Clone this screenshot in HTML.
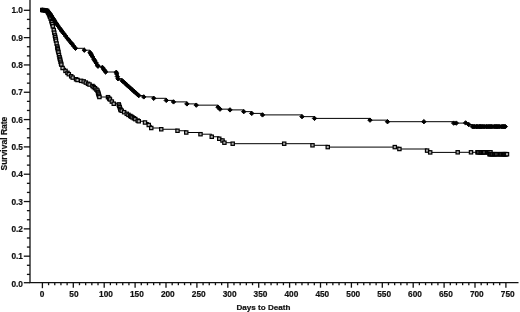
<!DOCTYPE html>
<html><head><meta charset="utf-8"><title>Survival Rate vs Days to Death</title>
<style>html,body{margin:0;padding:0;background:#fff}body{width:520px;height:312px;overflow:hidden}svg{display:block}</style>
</head><body>
<svg width="520" height="312" viewBox="0 0 520 312">
<rect width="520" height="312" fill="#fff"/>
<g stroke="#111" stroke-width="1.3" fill="none" stroke-linecap="butt">
<path d="M30.00 0.00 V282.70 H518.50"/>
<path d="M30.00 282.70 H23.80"/>
<path d="M30.00 274.39 H26.90"/>
<path d="M30.00 265.29 H26.90"/>
<path d="M30.00 256.18 H23.80"/>
<path d="M30.00 247.07 H26.90"/>
<path d="M30.00 237.97 H26.90"/>
<path d="M30.00 228.86 H23.80"/>
<path d="M30.00 219.75 H26.90"/>
<path d="M30.00 210.65 H26.90"/>
<path d="M30.00 201.54 H23.80"/>
<path d="M30.00 192.43 H26.90"/>
<path d="M30.00 183.33 H26.90"/>
<path d="M30.00 174.22 H23.80"/>
<path d="M30.00 165.11 H26.90"/>
<path d="M30.00 156.01 H26.90"/>
<path d="M30.00 146.90 H23.80"/>
<path d="M30.00 137.79 H26.90"/>
<path d="M30.00 128.69 H26.90"/>
<path d="M30.00 119.58 H23.80"/>
<path d="M30.00 110.47 H26.90"/>
<path d="M30.00 101.37 H26.90"/>
<path d="M30.00 92.26 H23.80"/>
<path d="M30.00 83.15 H26.90"/>
<path d="M30.00 74.05 H26.90"/>
<path d="M30.00 64.94 H23.80"/>
<path d="M30.00 55.83 H26.90"/>
<path d="M30.00 46.73 H26.90"/>
<path d="M30.00 37.62 H23.80"/>
<path d="M30.00 28.51 H26.90"/>
<path d="M30.00 19.41 H26.90"/>
<path d="M30.00 10.30 H23.80"/>
<path d="M42.40 282.70 V288.20"/>
<path d="M48.58 282.70 V285.20"/>
<path d="M54.76 282.70 V285.20"/>
<path d="M60.94 282.70 V285.20"/>
<path d="M67.12 282.70 V285.20"/>
<path d="M73.30 282.70 V287.70"/>
<path d="M79.48 282.70 V285.20"/>
<path d="M85.66 282.70 V285.20"/>
<path d="M91.84 282.70 V285.20"/>
<path d="M98.02 282.70 V285.20"/>
<path d="M104.20 282.70 V287.70"/>
<path d="M110.38 282.70 V285.20"/>
<path d="M116.56 282.70 V285.20"/>
<path d="M122.74 282.70 V285.20"/>
<path d="M128.92 282.70 V285.20"/>
<path d="M135.10 282.70 V287.70"/>
<path d="M141.28 282.70 V285.20"/>
<path d="M147.46 282.70 V285.20"/>
<path d="M153.64 282.70 V285.20"/>
<path d="M159.82 282.70 V285.20"/>
<path d="M166.00 282.70 V287.70"/>
<path d="M172.18 282.70 V285.20"/>
<path d="M178.36 282.70 V285.20"/>
<path d="M184.54 282.70 V285.20"/>
<path d="M190.72 282.70 V285.20"/>
<path d="M196.90 282.70 V287.70"/>
<path d="M203.08 282.70 V285.20"/>
<path d="M209.26 282.70 V285.20"/>
<path d="M215.44 282.70 V285.20"/>
<path d="M221.62 282.70 V285.20"/>
<path d="M227.80 282.70 V287.70"/>
<path d="M233.98 282.70 V285.20"/>
<path d="M240.16 282.70 V285.20"/>
<path d="M246.34 282.70 V285.20"/>
<path d="M252.52 282.70 V285.20"/>
<path d="M258.70 282.70 V287.70"/>
<path d="M264.88 282.70 V285.20"/>
<path d="M271.06 282.70 V285.20"/>
<path d="M277.24 282.70 V285.20"/>
<path d="M283.42 282.70 V285.20"/>
<path d="M289.60 282.70 V287.70"/>
<path d="M295.78 282.70 V285.20"/>
<path d="M301.96 282.70 V285.20"/>
<path d="M308.14 282.70 V285.20"/>
<path d="M314.32 282.70 V285.20"/>
<path d="M320.50 282.70 V287.70"/>
<path d="M326.68 282.70 V285.20"/>
<path d="M332.86 282.70 V285.20"/>
<path d="M339.04 282.70 V285.20"/>
<path d="M345.22 282.70 V285.20"/>
<path d="M351.40 282.70 V287.70"/>
<path d="M357.58 282.70 V285.20"/>
<path d="M363.76 282.70 V285.20"/>
<path d="M369.94 282.70 V285.20"/>
<path d="M376.12 282.70 V285.20"/>
<path d="M382.30 282.70 V287.70"/>
<path d="M388.48 282.70 V285.20"/>
<path d="M394.66 282.70 V285.20"/>
<path d="M400.84 282.70 V285.20"/>
<path d="M407.02 282.70 V285.20"/>
<path d="M413.20 282.70 V287.70"/>
<path d="M419.38 282.70 V285.20"/>
<path d="M425.56 282.70 V285.20"/>
<path d="M431.74 282.70 V285.20"/>
<path d="M437.92 282.70 V285.20"/>
<path d="M444.10 282.70 V287.70"/>
<path d="M450.28 282.70 V285.20"/>
<path d="M456.46 282.70 V285.20"/>
<path d="M462.64 282.70 V285.20"/>
<path d="M468.82 282.70 V285.20"/>
<path d="M475.00 282.70 V287.70"/>
<path d="M481.18 282.70 V285.20"/>
<path d="M487.36 282.70 V285.20"/>
<path d="M493.54 282.70 V285.20"/>
<path d="M499.72 282.70 V285.20"/>
<path d="M505.90 282.70 V287.70"/>
</g>
<g font-family="'Liberation Sans', Arial, Helvetica, sans-serif" font-weight="bold" font-size="8.3" fill="#111" stroke="#111" stroke-width="0.2">
<text x="23.0" y="286.50" text-anchor="end">0.0</text>
<text x="23.0" y="259.18" text-anchor="end">0.1</text>
<text x="23.0" y="231.86" text-anchor="end">0.2</text>
<text x="23.0" y="204.54" text-anchor="end">0.3</text>
<text x="23.0" y="177.22" text-anchor="end">0.4</text>
<text x="23.0" y="149.90" text-anchor="end">0.5</text>
<text x="23.0" y="122.58" text-anchor="end">0.6</text>
<text x="23.0" y="95.26" text-anchor="end">0.7</text>
<text x="23.0" y="67.94" text-anchor="end">0.8</text>
<text x="23.0" y="40.62" text-anchor="end">0.9</text>
<text x="23.0" y="13.30" text-anchor="end">1.0</text>
<text x="42.00" y="297.1" text-anchor="middle">0</text>
<text x="73.90" y="297.1" text-anchor="middle">50</text>
<text x="106.00" y="297.1" text-anchor="middle">100</text>
<text x="136.90" y="297.1" text-anchor="middle">150</text>
<text x="167.80" y="297.1" text-anchor="middle">200</text>
<text x="198.70" y="297.1" text-anchor="middle">250</text>
<text x="229.60" y="297.1" text-anchor="middle">300</text>
<text x="260.50" y="297.1" text-anchor="middle">350</text>
<text x="291.40" y="297.1" text-anchor="middle">400</text>
<text x="322.30" y="297.1" text-anchor="middle">450</text>
<text x="353.20" y="297.1" text-anchor="middle">500</text>
<text x="384.10" y="297.1" text-anchor="middle">550</text>
<text x="415.00" y="297.1" text-anchor="middle">600</text>
<text x="445.90" y="297.1" text-anchor="middle">650</text>
<text x="476.80" y="297.1" text-anchor="middle">700</text>
<text x="507.70" y="297.1" text-anchor="middle">750</text>
<text x="263.5" y="309.7" font-size="8.1" text-anchor="middle">Days to Death</text>
<text transform="translate(7.25 143.6) rotate(-90)" font-size="8.5" text-anchor="middle">Survival Rate</text>
</g>
<g stroke="#000" stroke-width="1" fill="none">
<path d="M42.25 10.00 H43.38 V10.19 H45.37 V10.53 H47.00 V10.80 H47.71 V11.93 H48.35 V12.96 H49.00 V14.00 H49.46 V15.28 H49.99 V16.78 H50.63 V18.55 H51.50 V21.00 H51.81 V22.22 H52.29 V24.16 H52.82 V26.30 H53.75 V30.00 H54.31 V32.68 H54.89 V35.45 H55.23 V37.07 H55.63 V38.96 H56.00 V40.74 H56.59 V43.54 H57.21 V46.50 H57.50 V47.87 H57.80 V49.29 H58.12 V50.82 H58.44 V52.35 H59.00 V55.00 H59.53 V57.22 H59.91 V58.80 H60.17 V59.87 H60.62 V61.76 H61.05 V63.55 H61.30 V64.60 H62.60 V68.00 H65.50 V70.90 H67.46 V72.86 H68.80 V74.20 H71.20 V76.30 H72.70 V77.60 H76.07 V79.29 H77.50 V80.00 H81.11 V80.82 H83.70 V81.40 H85.84 V82.59 H88.00 V83.80 H89.53 V84.55 H92.50 V86.00 H93.70 V87.05 H95.00 V88.20 H96.42 V89.57 H97.50 V90.60 H98.01 V92.31 H98.35 V93.46 H98.66 V94.52 H99.06 V95.86 H99.40 V97.00 H108.00 V97.20 H109.21 V98.57 H109.96 V99.44 H111.84 V101.58 H113.75 V103.75 H118.75 V104.40 H119.19 V105.73 H119.69 V107.25 H120.25 V108.95 H120.60 V110.00 H121.74 V110.71 H124.12 V112.18 H126.75 V113.81 H128.47 V114.88 H130.23 V115.97 H131.31 V116.64 H132.42 V117.33 H133.94 V118.27 H135.32 V119.13 H137.67 V120.58 H138.75 V121.25 H145.00 V122.50 H148.75 V125.00 H151.25 V128.00 H161.25 V129.25 H177.50 V130.75 H186.25 V132.50 H200.50 V134.20 H211.75 V136.75 H219.25 V138.75 H222.50 V140.50 H224.40 V142.70 H232.70 V143.70 H284.20 H312.50 V145.30 H327.75 V147.10 H394.80 H399.40 V149.00 H427.10 V150.60 H430.20 V152.40 H457.70 V152.30 H471.00 H477.50 H478.07 H479.57 H480.65 H481.35 H482.44 H483.02 H484.10 H485.63 H487.04 H488.29 H489.10 H490.50 H489.50 V154.20 H490.15 H491.34 H492.31 H493.51 H494.30 H494.99 H496.22 H497.60 H498.86 H500.08 H501.31 H502.48 H503.17 H504.13 H504.95 H505.47 H505.99 H507.00"/>
<path d="M42.25 10.00 H44.16 V10.24 H45.69 V10.43 H47.00 V10.60 H47.98 V11.55 H50.00 V13.50 H51.08 V15.20 H51.79 V16.33 H53.03 V18.30 H53.72 V19.39 H54.88 V21.22 H56.00 V23.00 H56.82 V24.15 H58.07 V25.89 H59.83 V28.36 H61.00 V30.00 H62.03 V31.35 H63.61 V33.41 H65.61 V36.03 H67.50 V38.50 H68.82 V40.11 H70.94 V42.71 H71.77 V43.73 H73.73 V46.13 H75.50 V48.30 H84.30 V50.20 H90.00 V52.50 H90.77 V53.82 H91.51 V55.09 H92.46 V56.72 H93.98 V59.31 H94.79 V60.70 H96.04 V62.85 H97.36 V65.11 H98.00 V66.20 H102.50 V67.50 H103.87 V69.49 H104.63 V70.60 H105.60 V72.00 H116.25 V72.30 H116.69 V73.91 H117.39 V76.52 H118.00 V78.75 H122.00 V80.60 H123.42 V81.87 H125.28 V83.53 H126.92 V85.01 H128.31 V86.25 H130.52 V88.23 H132.56 V90.06 H133.87 V91.23 H135.71 V92.88 H137.47 V94.45 H138.75 V95.60 H143.75 V96.90 H153.75 V98.30 H166.25 V100.40 H173.50 V101.90 H186.90 V103.90 H196.25 V105.15 H218.00 V107.15 H220.00 V109.15 H230.00 V109.90 H243.75 V111.65 H251.75 V113.40 H262.50 V114.90 H302.00 V116.65 H314.50 V118.40 H370.00 V120.15 H387.50 V121.70 H423.90 H453.70 V123.10 H456.30 H465.60 V122.90 H468.80 V124.60 H472.40 V126.60 H473.67 H474.50 H476.01 H476.67 H477.63 H478.92 H479.62 H480.65 H481.23 H482.44 H483.74 H484.85 H486.26 H487.12 H488.35 H489.48 H490.60 H491.60 H492.97 H494.45 H495.47 H496.67 H497.27 H498.51 H499.70 H501.23 H502.58 H503.41 H504.34 H505.30"/>
</g>
<g fill="#b4b4b4" stroke="#000" stroke-width="1.2">
<rect x="40.60" y="8.35" width="3.30" height="3.30" fill="#b0b0b0" stroke-width="1.2"/>
<rect x="41.73" y="8.54" width="3.30" height="3.30" fill="#b0b0b0" stroke-width="1.2"/>
<rect x="43.72" y="8.88" width="3.30" height="3.30" fill="#b0b0b0" stroke-width="1.2"/>
<rect x="45.35" y="9.15" width="3.30" height="3.30" fill="#b0b0b0" stroke-width="1.2"/>
<rect x="46.06" y="10.28" width="3.30" height="3.30" fill="#b0b0b0" stroke-width="1.2"/>
<rect x="46.70" y="11.31" width="3.30" height="3.30" fill="#b0b0b0" stroke-width="1.2"/>
<rect x="47.35" y="12.35" width="3.30" height="3.30" fill="#b0b0b0" stroke-width="1.2"/>
<rect x="47.81" y="13.63" width="3.30" height="3.30" fill="#b0b0b0" stroke-width="1.2"/>
<rect x="48.34" y="15.13" width="3.30" height="3.30" fill="#b0b0b0" stroke-width="1.2"/>
<rect x="48.98" y="16.90" width="3.30" height="3.30" fill="#b0b0b0" stroke-width="1.2"/>
<rect x="49.85" y="19.35" width="3.30" height="3.30" fill="#b0b0b0" stroke-width="1.2"/>
<rect x="50.16" y="20.57" width="3.30" height="3.30" fill="#b0b0b0" stroke-width="1.2"/>
<rect x="50.64" y="22.51" width="3.30" height="3.30" fill="#b0b0b0" stroke-width="1.2"/>
<rect x="51.17" y="24.65" width="3.30" height="3.30" fill="#b0b0b0" stroke-width="1.2"/>
<rect x="52.10" y="28.35" width="3.30" height="3.30" fill="#b0b0b0" stroke-width="1.2"/>
<rect x="52.66" y="31.03" width="3.30" height="3.30" fill="#b0b0b0" stroke-width="1.2"/>
<rect x="53.24" y="33.80" width="3.30" height="3.30" fill="#b0b0b0" stroke-width="1.2"/>
<rect x="53.58" y="35.42" width="3.30" height="3.30" fill="#b0b0b0" stroke-width="1.2"/>
<rect x="53.98" y="37.31" width="3.30" height="3.30" fill="#b0b0b0" stroke-width="1.2"/>
<rect x="54.35" y="39.09" width="3.30" height="3.30" fill="#b0b0b0" stroke-width="1.2"/>
<rect x="54.94" y="41.89" width="3.30" height="3.30" fill="#b0b0b0" stroke-width="1.2"/>
<rect x="55.56" y="44.85" width="3.30" height="3.30" fill="#b0b0b0" stroke-width="1.2"/>
<rect x="55.85" y="46.22" width="3.30" height="3.30" fill="#b0b0b0" stroke-width="1.2"/>
<rect x="56.15" y="47.64" width="3.30" height="3.30" fill="#b0b0b0" stroke-width="1.2"/>
<rect x="56.47" y="49.17" width="3.30" height="3.30" fill="#b0b0b0" stroke-width="1.2"/>
<rect x="56.79" y="50.70" width="3.30" height="3.30" fill="#b0b0b0" stroke-width="1.2"/>
<rect x="57.35" y="53.35" width="3.30" height="3.30" fill="#b0b0b0" stroke-width="1.2"/>
<rect x="57.88" y="55.57" width="3.30" height="3.30" fill="#b0b0b0" stroke-width="1.2"/>
<rect x="58.26" y="57.15" width="3.30" height="3.30" fill="#b0b0b0" stroke-width="1.2"/>
<rect x="58.52" y="58.22" width="3.30" height="3.30" fill="#b0b0b0" stroke-width="1.2"/>
<rect x="58.97" y="60.11" width="3.30" height="3.30" fill="#b0b0b0" stroke-width="1.2"/>
<rect x="59.40" y="61.90" width="3.30" height="3.30" fill="#b0b0b0" stroke-width="1.2"/>
<rect x="59.65" y="62.95" width="3.30" height="3.30" fill="#b0b0b0" stroke-width="1.2"/>
<rect x="60.95" y="66.35" width="3.30" height="3.30" fill="#b0b0b0" stroke-width="1.2"/>
<rect x="63.85" y="69.25" width="3.30" height="3.30" fill="#b0b0b0" stroke-width="1.2"/>
<rect x="65.81" y="71.21" width="3.30" height="3.30" fill="#b0b0b0" stroke-width="1.2"/>
<rect x="67.15" y="72.55" width="3.30" height="3.30" fill="#b0b0b0" stroke-width="1.2"/>
<rect x="69.55" y="74.65" width="3.30" height="3.30" fill="#b0b0b0" stroke-width="1.2"/>
<rect x="71.05" y="75.95" width="3.30" height="3.30" fill="#b0b0b0" stroke-width="1.2"/>
<rect x="74.42" y="77.64" width="3.30" height="3.30" fill="#b0b0b0" stroke-width="1.2"/>
<rect x="75.85" y="78.35" width="3.30" height="3.30" fill="#b0b0b0" stroke-width="1.2"/>
<rect x="79.46" y="79.17" width="3.30" height="3.30" fill="#b0b0b0" stroke-width="1.2"/>
<rect x="82.05" y="79.75" width="3.30" height="3.30" fill="#b0b0b0" stroke-width="1.2"/>
<rect x="84.19" y="80.94" width="3.30" height="3.30" fill="#b0b0b0" stroke-width="1.2"/>
<rect x="86.35" y="82.15" width="3.30" height="3.30" fill="#b0b0b0" stroke-width="1.2"/>
<rect x="87.88" y="82.90" width="3.30" height="3.30" fill="#b0b0b0" stroke-width="1.2"/>
<rect x="90.85" y="84.35" width="3.30" height="3.30" fill="#b0b0b0" stroke-width="1.2"/>
<rect x="92.05" y="85.40" width="3.30" height="3.30" fill="#b0b0b0" stroke-width="1.2"/>
<rect x="93.35" y="86.55" width="3.30" height="3.30" fill="#b0b0b0" stroke-width="1.2"/>
<rect x="94.77" y="87.92" width="3.30" height="3.30" fill="#b0b0b0" stroke-width="1.2"/>
<rect x="95.85" y="88.95" width="3.30" height="3.30" fill="#b0b0b0" stroke-width="1.2"/>
<rect x="96.36" y="90.66" width="3.30" height="3.30" fill="#b0b0b0" stroke-width="1.2"/>
<rect x="96.70" y="91.81" width="3.30" height="3.30" fill="#b0b0b0" stroke-width="1.2"/>
<rect x="97.01" y="92.87" width="3.30" height="3.30" fill="#b0b0b0" stroke-width="1.2"/>
<rect x="97.41" y="94.21" width="3.30" height="3.30" fill="#b0b0b0" stroke-width="1.2"/>
<rect x="97.75" y="95.35" width="3.30" height="3.30" fill="#b0b0b0" stroke-width="1.2"/>
<rect x="106.35" y="95.55" width="3.30" height="3.30" fill="#b0b0b0" stroke-width="1.2"/>
<rect x="107.56" y="96.92" width="3.30" height="3.30" fill="#b0b0b0" stroke-width="1.2"/>
<rect x="108.31" y="97.79" width="3.30" height="3.30" fill="#b0b0b0" stroke-width="1.2"/>
<rect x="110.19" y="99.93" width="3.30" height="3.30" fill="#b0b0b0" stroke-width="1.2"/>
<rect x="112.10" y="102.10" width="3.30" height="3.30" fill="#b0b0b0" stroke-width="1.2"/>
<rect x="117.10" y="102.75" width="3.30" height="3.30" fill="#b0b0b0" stroke-width="1.2"/>
<rect x="117.54" y="104.08" width="3.30" height="3.30" fill="#b0b0b0" stroke-width="1.2"/>
<rect x="118.04" y="105.60" width="3.30" height="3.30" fill="#b0b0b0" stroke-width="1.2"/>
<rect x="118.60" y="107.30" width="3.30" height="3.30" fill="#b0b0b0" stroke-width="1.2"/>
<rect x="118.95" y="108.35" width="3.30" height="3.30" fill="#b0b0b0" stroke-width="1.2"/>
<rect x="120.09" y="109.06" width="3.30" height="3.30" fill="#b0b0b0" stroke-width="1.2"/>
<rect x="122.47" y="110.53" width="3.30" height="3.30" fill="#b0b0b0" stroke-width="1.2"/>
<rect x="125.10" y="112.16" width="3.30" height="3.30" fill="#b0b0b0" stroke-width="1.2"/>
<rect x="126.82" y="113.23" width="3.30" height="3.30" fill="#b0b0b0" stroke-width="1.2"/>
<rect x="128.58" y="114.32" width="3.30" height="3.30" fill="#b0b0b0" stroke-width="1.2"/>
<rect x="129.66" y="114.99" width="3.30" height="3.30" fill="#b0b0b0" stroke-width="1.2"/>
<rect x="130.77" y="115.68" width="3.30" height="3.30" fill="#b0b0b0" stroke-width="1.2"/>
<rect x="132.29" y="116.62" width="3.30" height="3.30" fill="#b0b0b0" stroke-width="1.2"/>
<rect x="133.67" y="117.48" width="3.30" height="3.30" fill="#b0b0b0" stroke-width="1.2"/>
<rect x="136.02" y="118.93" width="3.30" height="3.30" fill="#b0b0b0" stroke-width="1.2"/>
<rect x="137.10" y="119.60" width="3.30" height="3.30" fill="#b0b0b0" stroke-width="1.2"/>
<rect x="143.35" y="120.85" width="3.30" height="3.30" fill="#b0b0b0" stroke-width="1.2"/>
<rect x="147.10" y="123.35" width="3.30" height="3.30" fill="#b0b0b0" stroke-width="1.2"/>
<rect x="149.60" y="126.35" width="3.30" height="3.30" fill="#b0b0b0" stroke-width="1.2"/>
<rect x="159.60" y="127.60" width="3.30" height="3.30" fill="#b0b0b0" stroke-width="1.2"/>
<rect x="175.85" y="129.10" width="3.30" height="3.30" fill="#b0b0b0" stroke-width="1.2"/>
<rect x="184.60" y="130.85" width="3.30" height="3.30" fill="#b0b0b0" stroke-width="1.2"/>
<rect x="198.85" y="132.55" width="3.30" height="3.30" fill="#b0b0b0" stroke-width="1.2"/>
<rect x="210.10" y="135.10" width="3.30" height="3.30" fill="#b0b0b0" stroke-width="1.2"/>
<rect x="217.60" y="137.10" width="3.30" height="3.30" fill="#b0b0b0" stroke-width="1.2"/>
<rect x="220.85" y="138.85" width="3.30" height="3.30" fill="#b0b0b0" stroke-width="1.2"/>
<rect x="222.75" y="141.05" width="3.30" height="3.30" fill="#b0b0b0" stroke-width="1.2"/>
<rect x="231.05" y="142.05" width="3.30" height="3.30" fill="#b0b0b0" stroke-width="1.2"/>
<rect x="282.55" y="142.05" width="3.30" height="3.30" fill="#b0b0b0" stroke-width="1.2"/>
<rect x="310.85" y="143.65" width="3.30" height="3.30" fill="#b0b0b0" stroke-width="1.2"/>
<rect x="326.10" y="145.45" width="3.30" height="3.30" fill="#b0b0b0" stroke-width="1.2"/>
<rect x="393.15" y="145.45" width="3.30" height="3.30" fill="#b0b0b0" stroke-width="1.2"/>
<rect x="397.75" y="147.35" width="3.30" height="3.30" fill="#b0b0b0" stroke-width="1.2"/>
<rect x="425.45" y="148.95" width="3.30" height="3.30" fill="#b0b0b0" stroke-width="1.2"/>
<rect x="428.55" y="150.75" width="3.30" height="3.30" fill="#b0b0b0" stroke-width="1.2"/>
<rect x="456.05" y="150.65" width="3.30" height="3.30" fill="#b0b0b0" stroke-width="1.2"/>
<rect x="469.35" y="150.65" width="3.30" height="3.30" fill="#b0b0b0" stroke-width="1.2"/>
<rect x="475.85" y="150.65" width="3.30" height="3.30" fill="#b0b0b0" stroke-width="1.2"/>
<rect x="476.42" y="150.65" width="3.30" height="3.30" fill="#b0b0b0" stroke-width="1.2"/>
<rect x="477.92" y="150.65" width="3.30" height="3.30" fill="#b0b0b0" stroke-width="1.2"/>
<rect x="479.00" y="150.65" width="3.30" height="3.30" fill="#b0b0b0" stroke-width="1.2"/>
<rect x="479.70" y="150.65" width="3.30" height="3.30" fill="#b0b0b0" stroke-width="1.2"/>
<rect x="480.79" y="150.65" width="3.30" height="3.30" fill="#b0b0b0" stroke-width="1.2"/>
<rect x="481.37" y="150.65" width="3.30" height="3.30" fill="#b0b0b0" stroke-width="1.2"/>
<rect x="482.45" y="150.65" width="3.30" height="3.30" fill="#b0b0b0" stroke-width="1.2"/>
<rect x="483.98" y="150.65" width="3.30" height="3.30" fill="#b0b0b0" stroke-width="1.2"/>
<rect x="485.39" y="150.65" width="3.30" height="3.30" fill="#b0b0b0" stroke-width="1.2"/>
<rect x="486.64" y="150.65" width="3.30" height="3.30" fill="#b0b0b0" stroke-width="1.2"/>
<rect x="487.45" y="150.65" width="3.30" height="3.30" fill="#b0b0b0" stroke-width="1.2"/>
<rect x="488.85" y="150.65" width="3.30" height="3.30" fill="#b0b0b0" stroke-width="1.2"/>
<rect x="487.85" y="152.55" width="3.30" height="3.30" fill="#b0b0b0" stroke-width="1.2"/>
<rect x="488.50" y="152.55" width="3.30" height="3.30" fill="#b0b0b0" stroke-width="1.2"/>
<rect x="489.69" y="152.55" width="3.30" height="3.30" fill="#b0b0b0" stroke-width="1.2"/>
<rect x="490.66" y="152.55" width="3.30" height="3.30" fill="#b0b0b0" stroke-width="1.2"/>
<rect x="491.86" y="152.55" width="3.30" height="3.30" fill="#b0b0b0" stroke-width="1.2"/>
<rect x="492.65" y="152.55" width="3.30" height="3.30" fill="#b0b0b0" stroke-width="1.2"/>
<rect x="493.34" y="152.55" width="3.30" height="3.30" fill="#b0b0b0" stroke-width="1.2"/>
<rect x="494.57" y="152.55" width="3.30" height="3.30" fill="#b0b0b0" stroke-width="1.2"/>
<rect x="495.95" y="152.55" width="3.30" height="3.30" fill="#b0b0b0" stroke-width="1.2"/>
<rect x="497.21" y="152.55" width="3.30" height="3.30" fill="#b0b0b0" stroke-width="1.2"/>
<rect x="498.43" y="152.55" width="3.30" height="3.30" fill="#b0b0b0" stroke-width="1.2"/>
<rect x="499.66" y="152.55" width="3.30" height="3.30" fill="#b0b0b0" stroke-width="1.2"/>
<rect x="500.83" y="152.55" width="3.30" height="3.30" fill="#b0b0b0" stroke-width="1.2"/>
<rect x="501.52" y="152.55" width="3.30" height="3.30" fill="#b0b0b0" stroke-width="1.2"/>
<rect x="502.48" y="152.55" width="3.30" height="3.30" fill="#b0b0b0" stroke-width="1.2"/>
<rect x="503.30" y="152.55" width="3.30" height="3.30" fill="#b0b0b0" stroke-width="1.2"/>
<rect x="503.82" y="152.55" width="3.30" height="3.30" fill="#b0b0b0" stroke-width="1.2"/>
<rect x="504.34" y="152.55" width="3.30" height="3.30" fill="#b0b0b0" stroke-width="1.2"/>
<rect x="505.35" y="152.55" width="3.30" height="3.30" fill="#b0b0b0" stroke-width="1.2"/>
</g>
<g fill="#000" stroke="#000" stroke-width="1" stroke-linejoin="round">
<path d="M42.25 7.80 l2.20 2.20 l-2.20 2.20 l-2.20 -2.20 z"/>
<path d="M44.16 8.04 l2.20 2.20 l-2.20 2.20 l-2.20 -2.20 z"/>
<path d="M45.69 8.23 l2.20 2.20 l-2.20 2.20 l-2.20 -2.20 z"/>
<path d="M47.00 8.40 l2.20 2.20 l-2.20 2.20 l-2.20 -2.20 z"/>
<path d="M47.98 9.35 l2.20 2.20 l-2.20 2.20 l-2.20 -2.20 z"/>
<path d="M50.00 11.30 l2.20 2.20 l-2.20 2.20 l-2.20 -2.20 z"/>
<path d="M51.08 13.00 l2.20 2.20 l-2.20 2.20 l-2.20 -2.20 z"/>
<path d="M51.79 14.13 l2.20 2.20 l-2.20 2.20 l-2.20 -2.20 z"/>
<path d="M53.03 16.10 l2.20 2.20 l-2.20 2.20 l-2.20 -2.20 z"/>
<path d="M53.72 17.19 l2.20 2.20 l-2.20 2.20 l-2.20 -2.20 z"/>
<path d="M54.88 19.02 l2.20 2.20 l-2.20 2.20 l-2.20 -2.20 z"/>
<path d="M56.00 20.80 l2.20 2.20 l-2.20 2.20 l-2.20 -2.20 z"/>
<path d="M56.82 21.95 l2.20 2.20 l-2.20 2.20 l-2.20 -2.20 z"/>
<path d="M58.07 23.69 l2.20 2.20 l-2.20 2.20 l-2.20 -2.20 z"/>
<path d="M59.83 26.16 l2.20 2.20 l-2.20 2.20 l-2.20 -2.20 z"/>
<path d="M61.00 27.80 l2.20 2.20 l-2.20 2.20 l-2.20 -2.20 z"/>
<path d="M62.03 29.15 l2.20 2.20 l-2.20 2.20 l-2.20 -2.20 z"/>
<path d="M63.61 31.21 l2.20 2.20 l-2.20 2.20 l-2.20 -2.20 z"/>
<path d="M65.61 33.83 l2.20 2.20 l-2.20 2.20 l-2.20 -2.20 z"/>
<path d="M67.50 36.30 l2.20 2.20 l-2.20 2.20 l-2.20 -2.20 z"/>
<path d="M68.82 37.91 l2.20 2.20 l-2.20 2.20 l-2.20 -2.20 z"/>
<path d="M70.94 40.51 l2.20 2.20 l-2.20 2.20 l-2.20 -2.20 z"/>
<path d="M71.77 41.53 l2.20 2.20 l-2.20 2.20 l-2.20 -2.20 z"/>
<path d="M73.73 43.93 l2.20 2.20 l-2.20 2.20 l-2.20 -2.20 z"/>
<path d="M75.50 46.10 l2.20 2.20 l-2.20 2.20 l-2.20 -2.20 z"/>
<path d="M84.30 48.00 l2.20 2.20 l-2.20 2.20 l-2.20 -2.20 z"/>
<path d="M90.00 50.30 l2.20 2.20 l-2.20 2.20 l-2.20 -2.20 z"/>
<path d="M90.77 51.62 l2.20 2.20 l-2.20 2.20 l-2.20 -2.20 z"/>
<path d="M91.51 52.89 l2.20 2.20 l-2.20 2.20 l-2.20 -2.20 z"/>
<path d="M92.46 54.52 l2.20 2.20 l-2.20 2.20 l-2.20 -2.20 z"/>
<path d="M93.98 57.11 l2.20 2.20 l-2.20 2.20 l-2.20 -2.20 z"/>
<path d="M94.79 58.50 l2.20 2.20 l-2.20 2.20 l-2.20 -2.20 z"/>
<path d="M96.04 60.65 l2.20 2.20 l-2.20 2.20 l-2.20 -2.20 z"/>
<path d="M97.36 62.91 l2.20 2.20 l-2.20 2.20 l-2.20 -2.20 z"/>
<path d="M98.00 64.00 l2.20 2.20 l-2.20 2.20 l-2.20 -2.20 z"/>
<path d="M102.50 65.30 l2.20 2.20 l-2.20 2.20 l-2.20 -2.20 z"/>
<path d="M103.87 67.29 l2.20 2.20 l-2.20 2.20 l-2.20 -2.20 z"/>
<path d="M104.63 68.40 l2.20 2.20 l-2.20 2.20 l-2.20 -2.20 z"/>
<path d="M105.60 69.80 l2.20 2.20 l-2.20 2.20 l-2.20 -2.20 z"/>
<path d="M116.25 70.10 l2.20 2.20 l-2.20 2.20 l-2.20 -2.20 z"/>
<path d="M116.69 71.71 l2.20 2.20 l-2.20 2.20 l-2.20 -2.20 z"/>
<path d="M117.39 74.32 l2.20 2.20 l-2.20 2.20 l-2.20 -2.20 z"/>
<path d="M118.00 76.55 l2.20 2.20 l-2.20 2.20 l-2.20 -2.20 z"/>
<path d="M122.00 78.40 l2.20 2.20 l-2.20 2.20 l-2.20 -2.20 z"/>
<path d="M123.42 79.67 l2.20 2.20 l-2.20 2.20 l-2.20 -2.20 z"/>
<path d="M125.28 81.33 l2.20 2.20 l-2.20 2.20 l-2.20 -2.20 z"/>
<path d="M126.92 82.81 l2.20 2.20 l-2.20 2.20 l-2.20 -2.20 z"/>
<path d="M128.31 84.05 l2.20 2.20 l-2.20 2.20 l-2.20 -2.20 z"/>
<path d="M130.52 86.03 l2.20 2.20 l-2.20 2.20 l-2.20 -2.20 z"/>
<path d="M132.56 87.86 l2.20 2.20 l-2.20 2.20 l-2.20 -2.20 z"/>
<path d="M133.87 89.03 l2.20 2.20 l-2.20 2.20 l-2.20 -2.20 z"/>
<path d="M135.71 90.68 l2.20 2.20 l-2.20 2.20 l-2.20 -2.20 z"/>
<path d="M137.47 92.25 l2.20 2.20 l-2.20 2.20 l-2.20 -2.20 z"/>
<path d="M138.75 93.40 l2.20 2.20 l-2.20 2.20 l-2.20 -2.20 z"/>
<path d="M143.75 94.70 l2.20 2.20 l-2.20 2.20 l-2.20 -2.20 z"/>
<path d="M153.75 96.10 l2.20 2.20 l-2.20 2.20 l-2.20 -2.20 z"/>
<path d="M166.25 98.20 l2.20 2.20 l-2.20 2.20 l-2.20 -2.20 z"/>
<path d="M173.50 99.70 l2.20 2.20 l-2.20 2.20 l-2.20 -2.20 z"/>
<path d="M186.90 101.70 l2.20 2.20 l-2.20 2.20 l-2.20 -2.20 z"/>
<path d="M196.25 102.95 l2.20 2.20 l-2.20 2.20 l-2.20 -2.20 z"/>
<path d="M218.00 104.95 l2.20 2.20 l-2.20 2.20 l-2.20 -2.20 z"/>
<path d="M220.00 106.95 l2.20 2.20 l-2.20 2.20 l-2.20 -2.20 z"/>
<path d="M230.00 107.70 l2.20 2.20 l-2.20 2.20 l-2.20 -2.20 z"/>
<path d="M243.75 109.45 l2.20 2.20 l-2.20 2.20 l-2.20 -2.20 z"/>
<path d="M251.75 111.20 l2.20 2.20 l-2.20 2.20 l-2.20 -2.20 z"/>
<path d="M262.50 112.70 l2.20 2.20 l-2.20 2.20 l-2.20 -2.20 z"/>
<path d="M302.00 114.45 l2.20 2.20 l-2.20 2.20 l-2.20 -2.20 z"/>
<path d="M314.50 116.20 l2.20 2.20 l-2.20 2.20 l-2.20 -2.20 z"/>
<path d="M370.00 117.95 l2.20 2.20 l-2.20 2.20 l-2.20 -2.20 z"/>
<path d="M387.50 119.50 l2.20 2.20 l-2.20 2.20 l-2.20 -2.20 z"/>
<path d="M423.90 119.50 l2.20 2.20 l-2.20 2.20 l-2.20 -2.20 z"/>
<path d="M453.70 120.90 l2.20 2.20 l-2.20 2.20 l-2.20 -2.20 z"/>
<path d="M456.30 120.90 l2.20 2.20 l-2.20 2.20 l-2.20 -2.20 z"/>
<path d="M465.60 120.70 l2.20 2.20 l-2.20 2.20 l-2.20 -2.20 z"/>
<path d="M468.80 122.40 l2.20 2.20 l-2.20 2.20 l-2.20 -2.20 z"/>
<path d="M472.40 124.40 l2.20 2.20 l-2.20 2.20 l-2.20 -2.20 z"/>
<path d="M473.67 124.40 l2.20 2.20 l-2.20 2.20 l-2.20 -2.20 z"/>
<path d="M474.50 124.40 l2.20 2.20 l-2.20 2.20 l-2.20 -2.20 z"/>
<path d="M476.01 124.40 l2.20 2.20 l-2.20 2.20 l-2.20 -2.20 z"/>
<path d="M476.67 124.40 l2.20 2.20 l-2.20 2.20 l-2.20 -2.20 z"/>
<path d="M477.63 124.40 l2.20 2.20 l-2.20 2.20 l-2.20 -2.20 z"/>
<path d="M478.92 124.40 l2.20 2.20 l-2.20 2.20 l-2.20 -2.20 z"/>
<path d="M479.62 124.40 l2.20 2.20 l-2.20 2.20 l-2.20 -2.20 z"/>
<path d="M480.65 124.40 l2.20 2.20 l-2.20 2.20 l-2.20 -2.20 z"/>
<path d="M481.23 124.40 l2.20 2.20 l-2.20 2.20 l-2.20 -2.20 z"/>
<path d="M482.44 124.40 l2.20 2.20 l-2.20 2.20 l-2.20 -2.20 z"/>
<path d="M483.74 124.40 l2.20 2.20 l-2.20 2.20 l-2.20 -2.20 z"/>
<path d="M484.85 124.40 l2.20 2.20 l-2.20 2.20 l-2.20 -2.20 z"/>
<path d="M486.26 124.40 l2.20 2.20 l-2.20 2.20 l-2.20 -2.20 z"/>
<path d="M487.12 124.40 l2.20 2.20 l-2.20 2.20 l-2.20 -2.20 z"/>
<path d="M488.35 124.40 l2.20 2.20 l-2.20 2.20 l-2.20 -2.20 z"/>
<path d="M489.48 124.40 l2.20 2.20 l-2.20 2.20 l-2.20 -2.20 z"/>
<path d="M490.60 124.40 l2.20 2.20 l-2.20 2.20 l-2.20 -2.20 z"/>
<path d="M491.60 124.40 l2.20 2.20 l-2.20 2.20 l-2.20 -2.20 z"/>
<path d="M492.97 124.40 l2.20 2.20 l-2.20 2.20 l-2.20 -2.20 z"/>
<path d="M494.45 124.40 l2.20 2.20 l-2.20 2.20 l-2.20 -2.20 z"/>
<path d="M495.47 124.40 l2.20 2.20 l-2.20 2.20 l-2.20 -2.20 z"/>
<path d="M496.67 124.40 l2.20 2.20 l-2.20 2.20 l-2.20 -2.20 z"/>
<path d="M497.27 124.40 l2.20 2.20 l-2.20 2.20 l-2.20 -2.20 z"/>
<path d="M498.51 124.40 l2.20 2.20 l-2.20 2.20 l-2.20 -2.20 z"/>
<path d="M499.70 124.40 l2.20 2.20 l-2.20 2.20 l-2.20 -2.20 z"/>
<path d="M501.23 124.40 l2.20 2.20 l-2.20 2.20 l-2.20 -2.20 z"/>
<path d="M502.58 124.40 l2.20 2.20 l-2.20 2.20 l-2.20 -2.20 z"/>
<path d="M503.41 124.40 l2.20 2.20 l-2.20 2.20 l-2.20 -2.20 z"/>
<path d="M504.34 124.40 l2.20 2.20 l-2.20 2.20 l-2.20 -2.20 z"/>
<path d="M505.30 124.40 l2.20 2.20 l-2.20 2.20 l-2.20 -2.20 z"/>
</g>
</svg>
</body></html>
